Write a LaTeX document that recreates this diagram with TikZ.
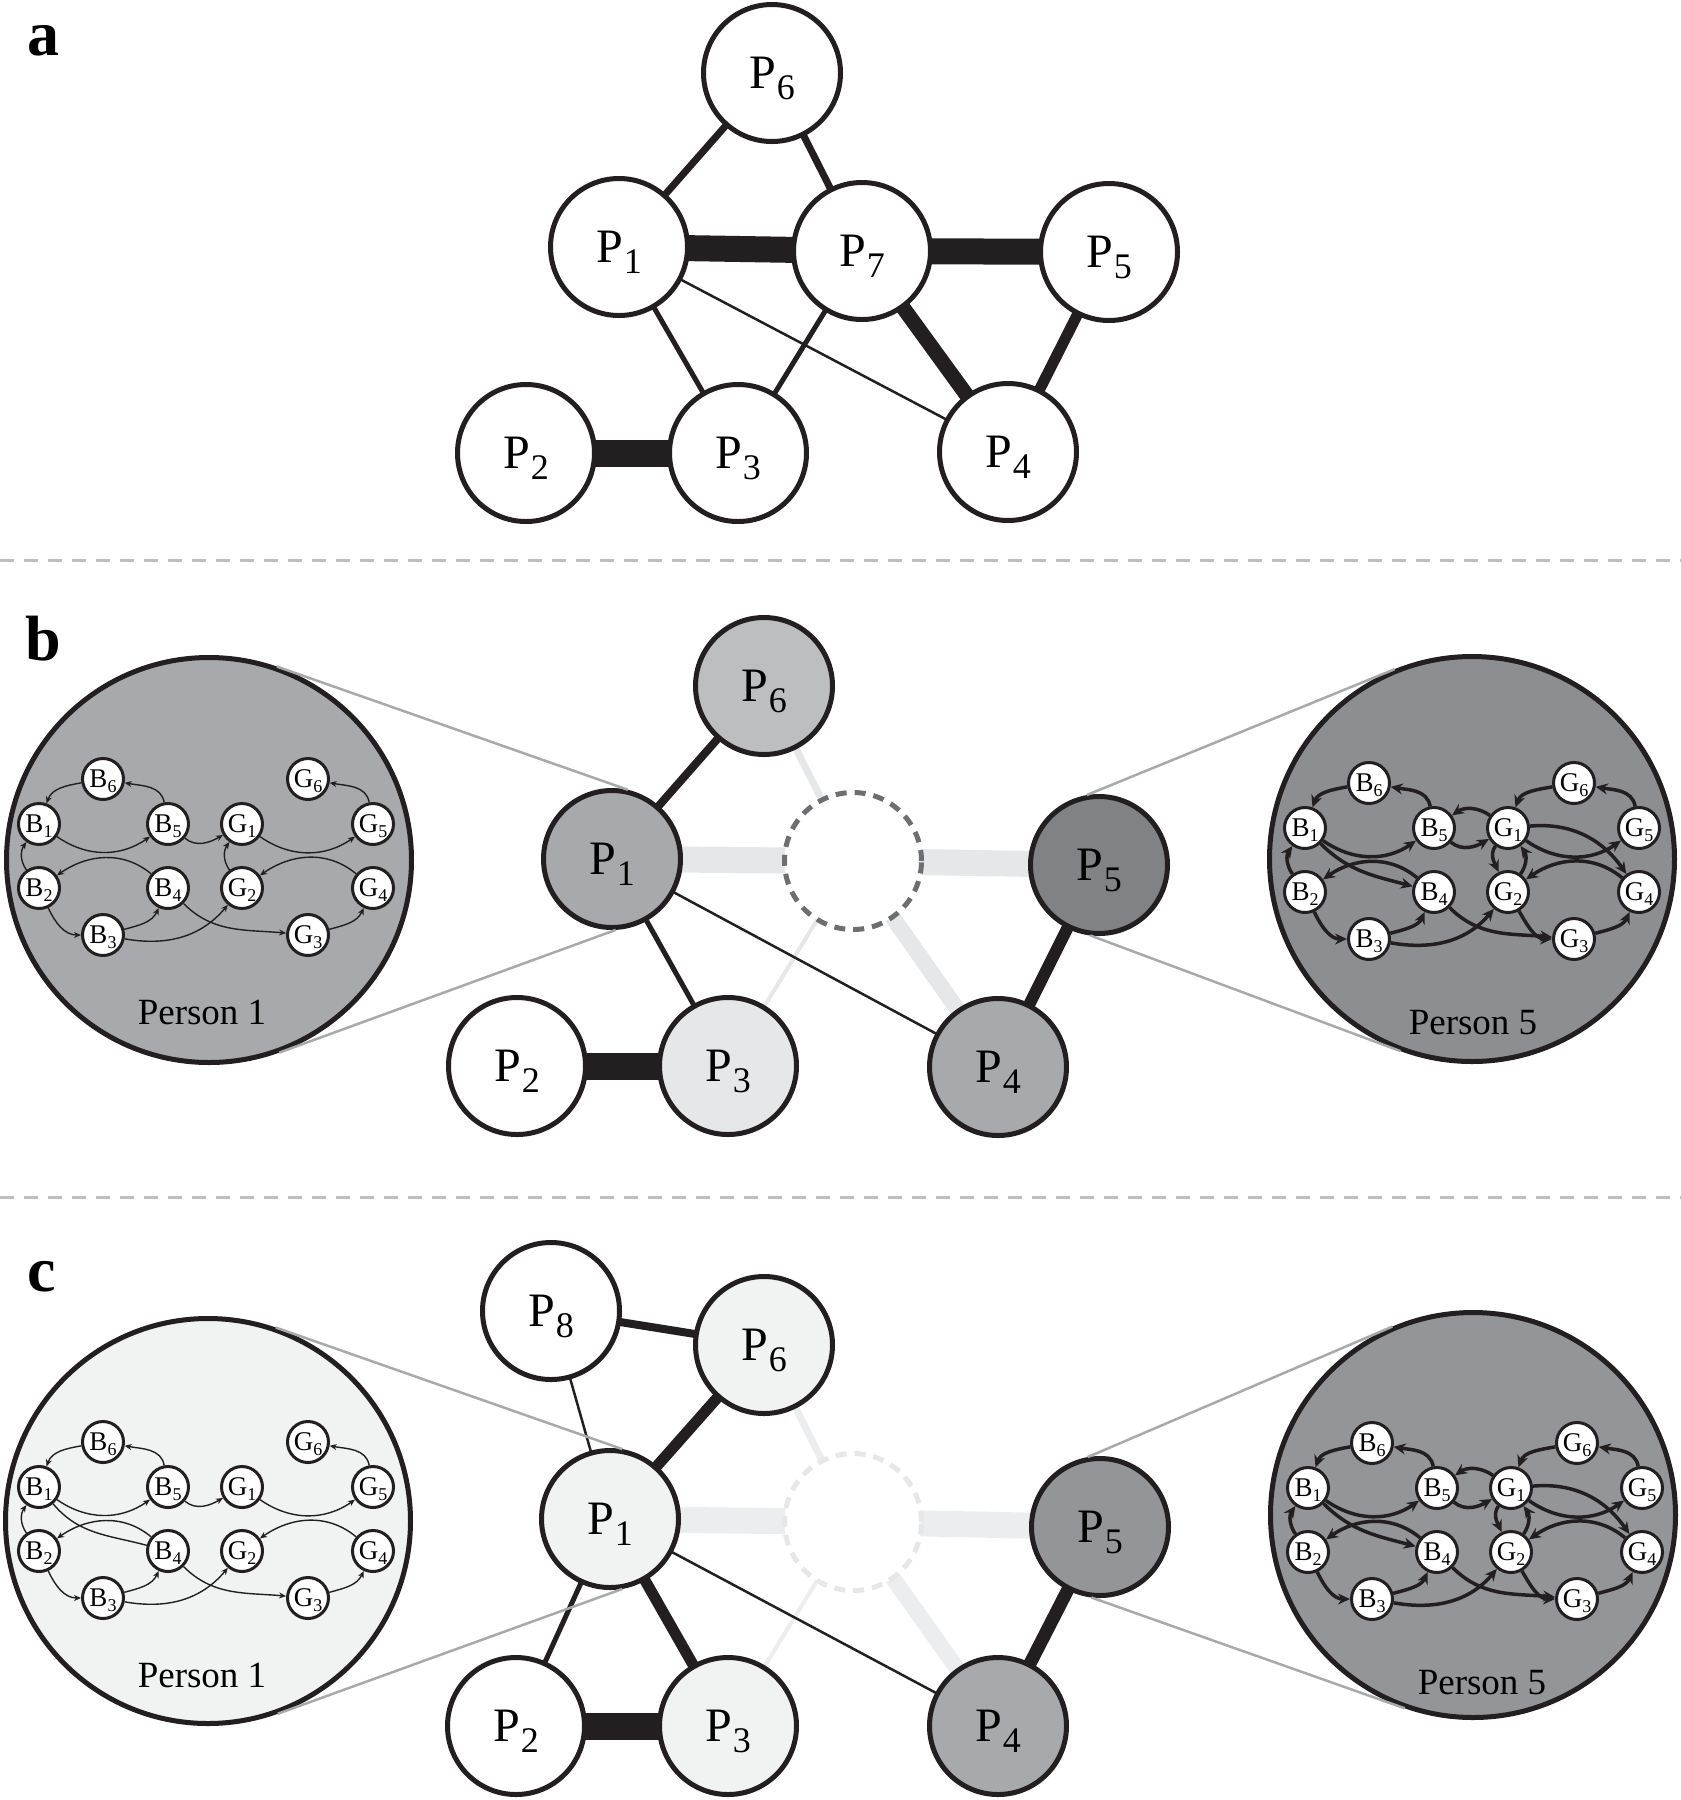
\documentclass[tikz,border=0pt]{standalone}
\usepackage{fontspec}
\setmainfont{Liberation Serif}
\usetikzlibrary{arrows.meta,calc,backgrounds}
\definecolor{ink}{HTML}{231F20}
\definecolor{gA}{HTML}{A7A9AC}
\definecolor{gB}{HTML}{BCBEC0}
\definecolor{gC}{HTML}{E6E7E8}
\definecolor{gD}{HTML}{F1F2F2}
\definecolor{gE}{HTML}{808285}
\definecolor{gF}{HTML}{8C8E91}
\definecolor{gG}{HTML}{939598}
\definecolor{gH}{HTML}{6D6E71}
\definecolor{gI}{HTML}{ECEDEE}
\newcommand\Plab[1]{P\kern1pt\raisebox{-11pt}[0pt][0pt]{\fontsize{36}{36}\selectfont #1}}
\newcommand\Slab[2]{#1\raisebox{-5pt}[0pt][0pt]{\fontsize{18}{18}\selectfont #2}}
\tikzset{
  pn/.style={circle, draw=ink, line width=5pt, minimum size=137pt, inner sep=0pt, fill=white, font=\fontsize{48}{48}\selectfont},
  sn/.style={circle, draw=ink, line width=3pt, minimum size=41pt, inner sep=0pt, fill=white, font=\fontsize{27}{27}\selectfont},
  bigc/.style={circle, draw=ink, line width=5pt, minimum size=405pt, inner sep=0pt},
  dnode/.style={circle, line width=5pt, minimum size=137pt, inner sep=0pt, fill=white, dash pattern=on 11pt off 8pt},
  edgew/.style={draw=ink, line width=#1},
  gedge/.style={draw=gC, line width=#1},
  hedge/.style={draw=gI, line width=#1},
  zoomline/.style={draw=gA, line width=2.5pt},
  sepline/.style={draw=gB, line width=3pt, dash pattern=on 14pt off 10pt},
  thinarr/.style={draw=ink, line width=1.4pt, -{Stealth[length=7pt,width=6pt]}},
  thinline/.style={draw=ink, line width=1.4pt},
  thickarr/.style={draw=ink, line width=3.5pt, -{Stealth[length=12pt,width=11pt]}},
  plabel/.style={font=\fontsize{37}{37}\selectfont},
  panel/.style={anchor=base west, font=\bfseries\fontsize{64}{64}\selectfont}
}
\newcommand\innernodes[1]{%
  \node[sn] (#1B1) at (-168,34) {\Slab{B}{1}};
  \node[sn] (#1B6) at (-104,79) {\Slab{B}{6}};
  \node[sn] (#1B5) at (-39,34) {\Slab{B}{5}};
  \node[sn] (#1G1) at (35,34) {\Slab{G}{1}};
  \node[sn] (#1G6) at (101,79) {\Slab{G}{6}};
  \node[sn] (#1G5) at (166,34) {\Slab{G}{5}};
  \node[sn] (#1B2) at (-168,-30) {\Slab{B}{2}};
  \node[sn] (#1B4) at (-39,-30) {\Slab{B}{4}};
  \node[sn] (#1G2) at (35,-30) {\Slab{G}{2}};
  \node[sn] (#1G4) at (166,-30) {\Slab{G}{4}};
  \node[sn] (#1B3) at (-104,-77) {\Slab{B}{3}};
  \node[sn] (#1G3) at (101,-77) {\Slab{G}{3}};
}
\newcommand\commonedges[2]{%
  \draw[#2] (#1B6) to[out=190,in=70] (#1B1);
  \draw[#2] (#1B5) to[out=100,in=-10] (#1B6);
  \draw[#2] (#1B1) to[out=-35,in=-145] (#1B5);
  \draw[#2] (#1B5) to[out=-40,in=-150] (#1G1);
  \draw[#2] (#1G1) to[out=-35,in=-145] (#1G5);
  \draw[#2] (#1G5) to[out=100,in=-10] (#1G6);
  \draw[#2] (#1B2) to[out=125,in=235] (#1B1);
  \draw[#2] (#1B4) to[out=140,in=35] (#1B2);
  \draw[#2] (#1B2) to[out=-65,in=180] (#1B3);
  \draw[#2] (#1B3) to[out=15,in=-115] (#1B4);
  \draw[#2] (#1B3) to[out=-10,in=-130] (#1G2);
  \draw[#2] (#1B4) to[out=-45,in=175] (#1G3);
  \draw[#2] (#1G3) to[out=15,in=-115] (#1G4);
  \draw[#2] (#1G4) to[out=140,in=35] (#1G2);
}
\newcommand\richedges[1]{%
  \commonedges{#1}{thickarr}
  \draw[thickarr] (#1G1) to[out=145,in=35] (#1B5);
  \draw[thickarr] (#1G6) to[out=190,in=70] (#1G1);
  \draw[thickarr] (#1G1) to[out=5,in=125] (#1G4);
  \draw[thickarr] (#1B1) to[out=-45,in=165] (#1B4);
  \draw[thickarr] (#1G1) to[out=235,in=115] (#1G2);
  \draw[thickarr] (#1G2) to[out=55,in=-55] (#1G1);
  \draw[thickarr] (#1G2) to[out=-60,in=180] (#1G3);
}
\begin{document}
\begin{tikzpicture}[x=1pt,y=1pt]
\useasboundingbox (0,0) rectangle (1681,-1800);
\begin{scope}[on background layer]
  \fill[white] (0,0) rectangle (1681,-1800);
\end{scope}

% separators
\draw[sepline] (0,-560) -- (1681,-560);
\draw[sepline] (0,-1197) -- (1681,-1197);

% panel letters
\node[panel] (la) at (24,-55) {a};
\node[panel] (lb) at (22,-660) {b};
\node[panel] (lc) at (24,-1291) {c};

% ---------------- panel a ----------------
\node[pn] (aP6) at (772,-73) {\Plab{6}};
\node[pn] (aP1) at (619,-247) {\Plab{1}};
\node[pn] (aP7) at (862,-251) {\Plab{7}};
\node[pn] (aP5) at (1109,-252) {\Plab{5}};
\node[pn] (aP2) at (526,-453) {\Plab{2}};
\node[pn] (aP3) at (738,-453) {\Plab{3}};
\node[pn] (aP4) at (1008,-452) {\Plab{4}};
\begin{scope}[on background layer]
  \draw[edgew=7pt] (aP1.center) -- (aP6.center);
  \draw[edgew=7pt] (aP6.center) -- (aP7.center);
  \draw[edgew=26pt] (aP1.center) -- (aP7.center);
  \draw[edgew=26pt] (aP7.center) -- (aP5.center);
  \draw[edgew=27pt] (aP2.center) -- (aP3.center);
  \draw[edgew=15pt] (aP7.center) -- (aP4.center);
  \draw[edgew=11pt] (aP5.center) -- (aP4.center);
  \draw[edgew=5pt] (aP1.center) -- (aP3.center);
  \draw[edgew=5pt] (aP7.center) -- (aP3.center);
  \draw[edgew=2.5pt] (aP1.center) -- (aP4.center);
\end{scope}

% ---------------- panel b ----------------
\node[pn, fill=gB] (bP6) at (764,-686) {\Plab{6}};
\node[pn, fill=gA] (bP1) at (612,-859) {\Plab{1}};
\node[dnode, draw=gH] (bD) at (853,-861) {};
\node[pn, fill=gE] (bP5) at (1099,-865) {\Plab{5}};
\node[pn] (bP2) at (517,-1066) {\Plab{2}};
\node[pn, fill=gC] (bP3) at (728,-1066) {\Plab{3}};
\node[pn, fill=gA] (bP4) at (998,-1067) {\Plab{4}};
\begin{scope}[on background layer]
  \draw[gedge=26pt] (bP1.center) -- (bD.center);
  \draw[gedge=26pt] (bD.center) -- (bP5.center);
  \draw[gedge=16pt] (bD.center) -- (bP4.center);
  \draw[gedge=7pt] (bD.center) -- (bP6.center);
  \draw[gedge=4pt] (bD.center) -- (bP3.center);
  \draw[edgew=8pt] (bP1.center) -- (bP6.center);
  \draw[edgew=5pt] (bP1.center) -- (bP3.center);
  \draw[edgew=2.5pt] (bP1.center) -- (bP4.center);
  \draw[edgew=27pt] (bP2.center) -- (bP3.center);
  \draw[edgew=12pt] (bP4.center) -- (bP5.center);
\end{scope}

\node[bigc, fill=gA] (bB1) at (209,-860) {};
\node[bigc, fill=gF] (bB5) at (1472,-859) {};
\draw[zoomline] (bP1.77) -- (tangent cs:node=bB1,point={(bP1.77)},solution=1);
\draw[zoomline] (bP1.-87) -- (tangent cs:node=bB1,point={(bP1.-87)},solution=2);
\draw[zoomline] (bP5.100) -- (tangent cs:node=bB5,point={(bP5.100)},solution=2);
\draw[zoomline] (bP5.-97) -- (tangent cs:node=bB5,point={(bP5.-97)},solution=1);

\begin{scope}[shift={(207,-858)}]
  \innernodes{pb}
  \commonedges{pb}{thinarr}
  \draw[thinarr] (pbG2) to[out=125,in=235] (pbG1);
\end{scope}
\node[plabel] (tb1) at (202,-1012) {Person 1};

\begin{scope}[shift={(1473,-862)}]
  \innernodes{qb}
  \richedges{qb}
\end{scope}
\node[plabel] (tb5) at (1473,-1023) {Person 5};

% ---------------- panel c ----------------
\node[pn] (cP8) at (551,-1311) {\Plab{8}};
\node[pn, fill=gD] (cP6) at (764,-1345) {\Plab{6}};
\node[pn, fill=gD] (cP1) at (610,-1519) {\Plab{1}};
\node[dnode, draw=gC] (cD) at (853,-1522) {};
\node[pn, fill=gG] (cP5) at (1100,-1527) {\Plab{5}};
\node[pn] (cP2) at (516,-1726) {\Plab{2}};
\node[pn, fill=gD] (cP3) at (728,-1726) {\Plab{3}};
\node[pn, fill=gA] (cP4) at (998,-1726) {\Plab{4}};
\begin{scope}[on background layer]
  \draw[hedge=26pt] (cP1.center) -- (cD.center);
  \draw[hedge=26pt] (cD.center) -- (cP5.center);
  \draw[hedge=16pt] (cD.center) -- (cP4.center);
  \draw[hedge=7pt] (cD.center) -- (cP6.center);
  \draw[hedge=4pt] (cD.center) -- (cP3.center);
  \draw[edgew=8pt] (cP8.center) -- (cP6.center);
  \draw[edgew=2.5pt] (cP8.center) -- (cP1.center);
  \draw[edgew=11pt] (cP6.center) -- (cP1.center);
  \draw[edgew=5pt] (cP1.center) -- (cP2.center);
  \draw[edgew=11pt] (cP1.center) -- (cP3.center);
  \draw[edgew=2.5pt] (cP1.center) -- (cP4.center);
  \draw[edgew=27pt] (cP2.center) -- (cP3.center);
  \draw[edgew=13pt] (cP4.center) -- (cP5.center);
\end{scope}

\node[bigc, fill=gD] (cB1) at (208,-1521) {};
\node[bigc, fill=gG] (cB5) at (1473,-1515) {};
\draw[zoomline] (cP1.80) -- (tangent cs:node=cB1,point={(cP1.80)},solution=1);
\draw[zoomline] (cP1.-80) -- (tangent cs:node=cB1,point={(cP1.-80)},solution=2);
\draw[zoomline] (cP5.100) -- (tangent cs:node=cB5,point={(cP5.100)},solution=2);
\draw[zoomline] (cP5.-97) -- (tangent cs:node=cB5,point={(cP5.-97)},solution=1);

\begin{scope}[shift={(207,-1521)}]
  \innernodes{pc}
  \commonedges{pc}{thinarr}
  \draw[thinline] (pcB1) to[out=-50,in=165] (pcB4);
\end{scope}
\node[plabel] (tc1) at (202,-1675) {Person 1};

\begin{scope}[shift={(1476,-1522)}]
  \innernodes{qc}
  \richedges{qc}
\end{scope}
\node[plabel] (tc5) at (1482,-1683) {Person 5};
\end{tikzpicture}
\end{document}
